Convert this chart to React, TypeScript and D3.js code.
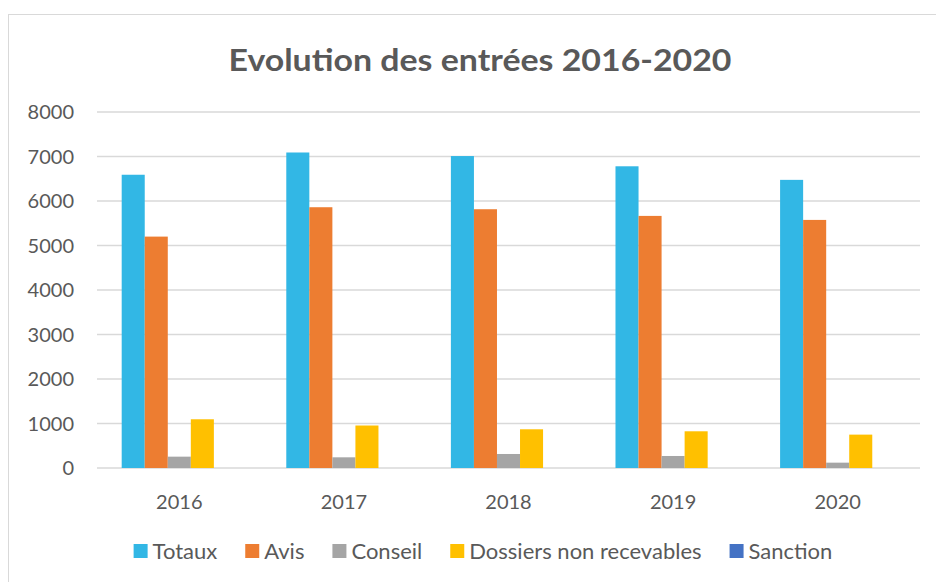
import React, { useEffect, useRef } from "react";
import * as d3 from "d3";

const years = ["2016", "2017", "2018", "2019", "2020"];
const seriesNames = ["Totaux", "Avis", "Conseil", "Dossiers non recevables", "Sanction"];
const totaux = [6590, 7090, 7010, 6780, 6475];
const avis = [5200, 5860, 5815, 5665, 5575];
const conseil = [255, 240, 315, 270, 120];
const dossiers = [1095, 955, 870, 825, 750];
const sanction = [0, 0, 0, 0, 0];
const yTicks = [0, 1000, 2000, 3000, 4000, 5000, 6000, 7000, 8000];
const colors = ["#32b7e5", "#ed7d31", "#a5a5a5", "#ffc000", "#4472c4"];

const FONT = "Lato, 'Open Sans', sans-serif";

const App = () => {
  const ref = useRef<SVGSVGElement>(null);

  useEffect(() => {
    const svg = d3.select(ref.current);
    svg.selectAll("*").remove();

    const width = 936;
    const height = 582;
    const margin = { top: 112, right: 16, bottom: 114, left: 97 };
    const allSeries = [totaux, avis, conseil, dossiers, sanction];

    // chart frame
    svg
      .append("rect")
      .attr("x", 8.5)
      .attr("y", 14.5)
      .attr("width", 940)
      .attr("height", 600)
      .attr("fill", "#fff")
      .attr("stroke", "#d9d9d9");

    const x = d3
      .scaleBand()
      .domain(years)
      .range([margin.left, width - margin.right])
      .paddingInner(0.3)
      .paddingOuter(0.15);

    const xInner = d3
      .scaleBand()
      .domain(seriesNames)
      .range([0, x.bandwidth()]);

    const y = d3
      .scaleLinear()
      .domain([0, 8000])
      .range([height - margin.bottom, margin.top]);

    // grid
    svg
      .append("g")
      .selectAll("line")
      .data(yTicks)
      .enter()
      .append("line")
      .attr("x1", margin.left)
      .attr("x2", width - margin.right)
      .attr("y1", (d) => y(d))
      .attr("y2", (d) => y(d))
      .attr("stroke", "#d9d9d9")
      .attr("stroke-width", 1.5);

    // y labels
    svg
      .append("g")
      .selectAll("text")
      .data(yTicks)
      .enter()
      .append("text")
      .attr("x", 74)
      .attr("y", (d) => y(d))
      .attr("dy", "0.35em")
      .attr("text-anchor", "end")
      .attr("fill", "#595959")
      .style("font-family", FONT)
      .style("font-size", "20px")
      .text((d) => d);

    // bars
    allSeries.forEach((values, si) => {
      svg
        .append("g")
        .selectAll("rect")
        .data(values)
        .enter()
        .append("rect")
        .attr("x", (d, i) => x(years[i]) + xInner(seriesNames[si]))
        .attr("y", (d) => y(d))
        .attr("width", xInner.bandwidth())
        .attr("height", (d) => y(0) - y(d))
        .attr("fill", colors[si]);
    });

    // x labels
    svg
      .append("g")
      .selectAll("text")
      .data(years)
      .enter()
      .append("text")
      .attr("x", (d) => x(d) + x.bandwidth() / 2)
      .attr("y", 509)
      .attr("text-anchor", "middle")
      .attr("fill", "#595959")
      .style("font-family", FONT)
      .style("font-size", "20px")
      .text((d) => d);

    // title
    svg
      .append("text")
      .attr("x", 480)
      .attr("y", 71)
      .attr("text-anchor", "middle")
      .attr("fill", "#595959")
      .style("font-family", FONT)
      .style("font-weight", "bold")
      .style("font-size", "31px")
      .attr("textLength", 503)
      .attr("lengthAdjust", "spacingAndGlyphs")
      .text("Evolution des entrées 2016-2020");

    // legend
    const legend = svg.append("g");
    const gap = 28;
    let cx = 0;
    seriesNames.forEach((name, i) => {
      const item = legend.append("g").attr("transform", `translate(${cx},0)`);
      item
        .append("rect")
        .attr("x", 0)
        .attr("y", -7)
        .attr("width", 14)
        .attr("height", 14)
        .attr("fill", colors[i]);
      const t = item
        .append("text")
        .attr("x", 19)
        .attr("y", 0)
        .attr("dy", "0.35em")
        .attr("fill", "#595959")
        .style("font-family", FONT)
        .style("font-size", "22px")
        .text(name);
      const w = (t.node() as SVGTextElement).getComputedTextLength();
      cx += 19 + w + gap;
    });
    const total = cx - gap;
    legend.attr("transform", `translate(${483 - total / 2},551)`);
  }, []);

  return <svg ref={ref} width={936} height={582} style={{ display: "block", position: "absolute", left: 0, top: 0 }}></svg>;
};

export default App;
